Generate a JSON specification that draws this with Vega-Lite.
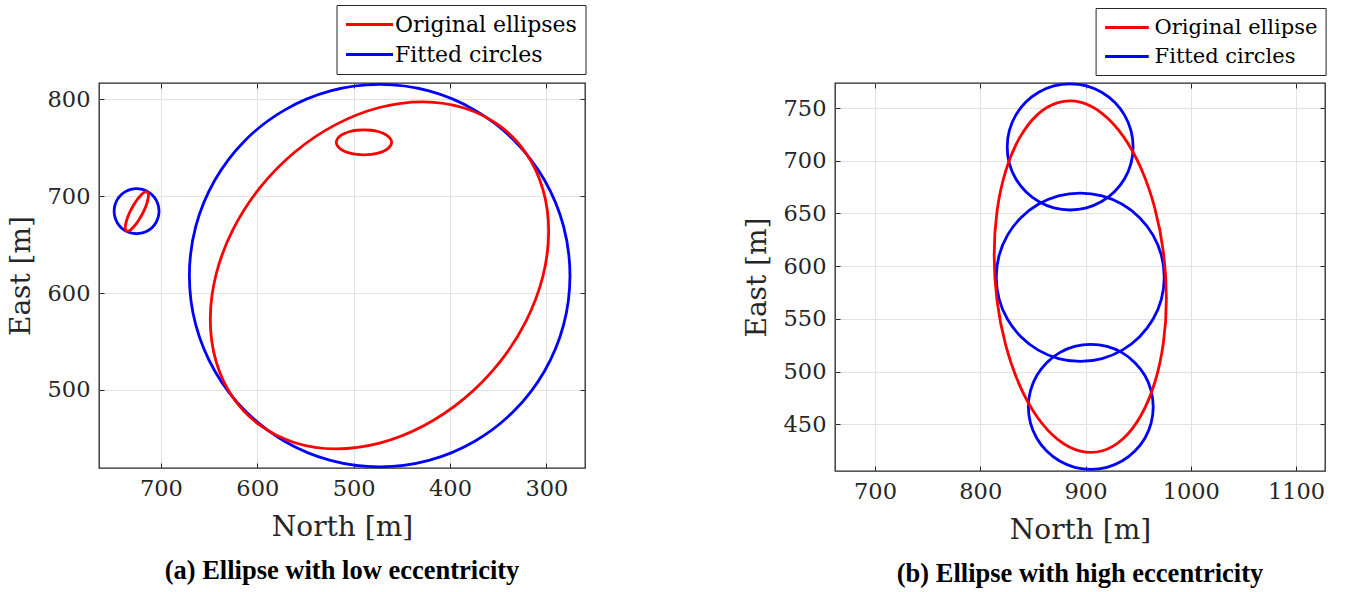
{
  "$schema": "https://vega.github.io/schema/vega-lite/v6.json",
  "background": "white",
  "padding": {"left": 6, "top": 3, "right": 5, "bottom": 5},
  "bounds": "flush",
  "spacing": 250,
  "config": {
    "view": {"stroke": "#262626", "strokeWidth": 1.3},
    "font": "DejaVu Serif",
    "axis": {
      "labelFont": "DejaVu Serif", "labelFontSize": 22.5, "labelColor": "#262626",
      "titleFont": "DejaVu Serif", "titleFontSize": 28, "titleFontWeight": "normal", "titleColor": "#262626",
      "gridColor": "#e2e2e2", "gridWidth": 1, "gridOpacity": 1,
      "tickColor": "#262626", "tickWidth": 1, "domain": false, "format": "d",
      "labelOverlap": false, "labelFlush": false, "labelBound": false
    },
    "legend": {
      "orient": "none", "title": null, "strokeColor": "#262626", "fillColor": "white",
      "padding": 8, "labelFont": "DejaVu Serif", "labelFontSize": 22, "labelColor": "black", "labelLimit": 400,
      "symbolStrokeWidth": 3, "symbolSize": 400, "rowPadding": 7
    },
    "title": {"font": "Liberation Serif", "fontWeight": "bold", "fontSize": 26.5, "color": "black"}
  },
  "resolve": {"scale": {"color": "independent"}, "legend": {"color": "independent"}},
  "hconcat": [
    {
      "width": 486, "height": 385,
      "title": {"text": "(a) Ellipse with low eccentricity", "orient": "bottom", "anchor": "middle", "offset": 16},
      "data": {"values": [
        {"shape":"bigC","series":"Fitted circles","i":0,"north":670.5,"east":618.0},
        {"shape":"bigC","series":"Fitted circles","i":1,"north":663.8,"east":669.1},
        {"shape":"bigC","series":"Fitted circles","i":2,"north":644.0,"east":716.8},
        {"shape":"bigC","series":"Fitted circles","i":3,"north":612.7,"east":757.7},
        {"shape":"bigC","series":"Fitted circles","i":4,"north":571.8,"east":789.0},
        {"shape":"bigC","series":"Fitted circles","i":5,"north":524.1,"east":808.8},
        {"shape":"bigC","series":"Fitted circles","i":6,"north":473.0,"east":815.5},
        {"shape":"bigC","series":"Fitted circles","i":7,"north":421.9,"east":808.8},
        {"shape":"bigC","series":"Fitted circles","i":8,"north":374.3,"east":789.0},
        {"shape":"bigC","series":"Fitted circles","i":9,"north":333.4,"east":757.7},
        {"shape":"bigC","series":"Fitted circles","i":10,"north":302.0,"east":716.8},
        {"shape":"bigC","series":"Fitted circles","i":11,"north":282.2,"east":669.1},
        {"shape":"bigC","series":"Fitted circles","i":12,"north":275.5,"east":618.0},
        {"shape":"bigC","series":"Fitted circles","i":13,"north":282.2,"east":566.9},
        {"shape":"bigC","series":"Fitted circles","i":14,"north":302.0,"east":519.3},
        {"shape":"bigC","series":"Fitted circles","i":15,"north":333.4,"east":478.4},
        {"shape":"bigC","series":"Fitted circles","i":16,"north":374.3,"east":447.0},
        {"shape":"bigC","series":"Fitted circles","i":17,"north":421.9,"east":427.2},
        {"shape":"bigC","series":"Fitted circles","i":18,"north":473.0,"east":420.5},
        {"shape":"bigC","series":"Fitted circles","i":19,"north":524.1,"east":427.2},
        {"shape":"bigC","series":"Fitted circles","i":20,"north":571.8,"east":447.0},
        {"shape":"bigC","series":"Fitted circles","i":21,"north":612.7,"east":478.4},
        {"shape":"bigC","series":"Fitted circles","i":22,"north":644.0,"east":519.3},
        {"shape":"bigC","series":"Fitted circles","i":23,"north":663.8,"east":566.9},
        {"shape":"smallC","series":"Fitted circles","i":0,"north":748.6,"east":684.6},
        {"shape":"smallC","series":"Fitted circles","i":1,"north":747.8,"east":690.6},
        {"shape":"smallC","series":"Fitted circles","i":2,"north":745.5,"east":696.3},
        {"shape":"smallC","series":"Fitted circles","i":3,"north":741.8,"east":701.1},
        {"shape":"smallC","series":"Fitted circles","i":4,"north":736.9,"east":704.8},
        {"shape":"smallC","series":"Fitted circles","i":5,"north":731.3,"east":707.1},
        {"shape":"smallC","series":"Fitted circles","i":6,"north":725.3,"east":707.9},
        {"shape":"smallC","series":"Fitted circles","i":7,"north":719.3,"east":707.1},
        {"shape":"smallC","series":"Fitted circles","i":8,"north":713.7,"east":704.8},
        {"shape":"smallC","series":"Fitted circles","i":9,"north":708.8,"east":701.1},
        {"shape":"smallC","series":"Fitted circles","i":10,"north":705.1,"east":696.3},
        {"shape":"smallC","series":"Fitted circles","i":11,"north":702.8,"east":690.6},
        {"shape":"smallC","series":"Fitted circles","i":12,"north":702.0,"east":684.6},
        {"shape":"smallC","series":"Fitted circles","i":13,"north":702.8,"east":678.6},
        {"shape":"smallC","series":"Fitted circles","i":14,"north":705.1,"east":672.9},
        {"shape":"smallC","series":"Fitted circles","i":15,"north":708.8,"east":668.1},
        {"shape":"smallC","series":"Fitted circles","i":16,"north":713.7,"east":664.4},
        {"shape":"smallC","series":"Fitted circles","i":17,"north":719.3,"east":662.1},
        {"shape":"smallC","series":"Fitted circles","i":18,"north":725.3,"east":661.3},
        {"shape":"smallC","series":"Fitted circles","i":19,"north":731.3,"east":662.1},
        {"shape":"smallC","series":"Fitted circles","i":20,"north":736.9,"east":664.4},
        {"shape":"smallC","series":"Fitted circles","i":21,"north":741.8,"east":668.1},
        {"shape":"smallC","series":"Fitted circles","i":22,"north":745.5,"east":672.9},
        {"shape":"smallC","series":"Fitted circles","i":23,"north":747.8,"east":678.6},
        {"shape":"bigE","series":"Original ellipses","i":0,"north":648.8,"east":572.7},
        {"shape":"bigE","series":"Original ellipses","i":1,"north":642.8,"east":619.2},
        {"shape":"bigE","series":"Original ellipses","i":2,"north":625.3,"east":665.5},
        {"shape":"bigE","series":"Original ellipses","i":3,"north":597.4,"east":708.7},
        {"shape":"bigE","series":"Original ellipses","i":4,"north":561.0,"east":745.7},
        {"shape":"bigE","series":"Original ellipses","i":5,"north":518.7,"east":774.0},
        {"shape":"bigE","series":"Original ellipses","i":6,"north":473.2,"east":791.7},
        {"shape":"bigE","series":"Original ellipses","i":7,"north":427.8,"east":797.6},
        {"shape":"bigE","series":"Original ellipses","i":8,"north":385.4,"east":791.2},
        {"shape":"bigE","series":"Original ellipses","i":9,"north":349.0,"east":773.1},
        {"shape":"bigE","series":"Original ellipses","i":10,"north":321.1,"east":744.5},
        {"shape":"bigE","series":"Original ellipses","i":11,"north":303.6,"east":707.2},
        {"shape":"bigE","series":"Original ellipses","i":12,"north":297.6,"east":663.9},
        {"shape":"bigE","series":"Original ellipses","i":13,"north":303.6,"east":617.4},
        {"shape":"bigE","series":"Original ellipses","i":14,"north":321.1,"east":571.1},
        {"shape":"bigE","series":"Original ellipses","i":15,"north":349.0,"east":527.9},
        {"shape":"bigE","series":"Original ellipses","i":16,"north":385.4,"east":490.9},
        {"shape":"bigE","series":"Original ellipses","i":17,"north":427.8,"east":462.6},
        {"shape":"bigE","series":"Original ellipses","i":18,"north":473.2,"east":444.9},
        {"shape":"bigE","series":"Original ellipses","i":19,"north":518.7,"east":439.0},
        {"shape":"bigE","series":"Original ellipses","i":20,"north":561.0,"east":445.4},
        {"shape":"bigE","series":"Original ellipses","i":21,"north":597.4,"east":463.5},
        {"shape":"bigE","series":"Original ellipses","i":22,"north":625.3,"east":492.1},
        {"shape":"bigE","series":"Original ellipses","i":23,"north":642.8,"east":529.4},
        {"shape":"topE","series":"Original ellipses","i":0,"north":518.0,"east":755.7},
        {"shape":"topE","series":"Original ellipses","i":1,"north":517.0,"east":759.0},
        {"shape":"topE","series":"Original ellipses","i":2,"north":514.2,"east":762.2},
        {"shape":"topE","series":"Original ellipses","i":3,"north":509.6,"east":764.8},
        {"shape":"topE","series":"Original ellipses","i":4,"north":503.7,"east":766.9},
        {"shape":"topE","series":"Original ellipses","i":5,"north":496.7,"east":768.2},
        {"shape":"topE","series":"Original ellipses","i":6,"north":489.3,"east":768.6},
        {"shape":"topE","series":"Original ellipses","i":7,"north":481.9,"east":768.2},
        {"shape":"topE","series":"Original ellipses","i":8,"north":474.9,"east":766.9},
        {"shape":"topE","series":"Original ellipses","i":9,"north":469.0,"east":764.8},
        {"shape":"topE","series":"Original ellipses","i":10,"north":464.5,"east":762.2},
        {"shape":"topE","series":"Original ellipses","i":11,"north":461.6,"east":759.0},
        {"shape":"topE","series":"Original ellipses","i":12,"north":460.6,"east":755.7},
        {"shape":"topE","series":"Original ellipses","i":13,"north":461.6,"east":752.4},
        {"shape":"topE","series":"Original ellipses","i":14,"north":464.5,"east":749.3},
        {"shape":"topE","series":"Original ellipses","i":15,"north":469.0,"east":746.6},
        {"shape":"topE","series":"Original ellipses","i":16,"north":474.9,"east":744.5},
        {"shape":"topE","series":"Original ellipses","i":17,"north":481.9,"east":743.2},
        {"shape":"topE","series":"Original ellipses","i":18,"north":489.3,"east":742.8},
        {"shape":"topE","series":"Original ellipses","i":19,"north":496.7,"east":743.2},
        {"shape":"topE","series":"Original ellipses","i":20,"north":503.7,"east":744.5},
        {"shape":"topE","series":"Original ellipses","i":21,"north":509.6,"east":746.6},
        {"shape":"topE","series":"Original ellipses","i":22,"north":514.2,"east":749.3},
        {"shape":"topE","series":"Original ellipses","i":23,"north":517.0,"east":752.4},
        {"shape":"smallE","series":"Original ellipses","i":0,"north":714.3,"east":704.4},
        {"shape":"smallE","series":"Original ellipses","i":1,"north":716.1,"east":704.5},
        {"shape":"smallE","series":"Original ellipses","i":2,"north":718.5,"east":703.2},
        {"shape":"smallE","series":"Original ellipses","i":3,"north":721.3,"east":700.6},
        {"shape":"smallE","series":"Original ellipses","i":4,"north":724.4,"east":696.9},
        {"shape":"smallE","series":"Original ellipses","i":5,"north":727.5,"east":692.3},
        {"shape":"smallE","series":"Original ellipses","i":6,"north":730.5,"east":687.2},
        {"shape":"smallE","series":"Original ellipses","i":7,"north":733.1,"east":681.9},
        {"shape":"smallE","series":"Original ellipses","i":8,"north":735.1,"east":676.8},
        {"shape":"smallE","series":"Original ellipses","i":9,"north":736.4,"east":672.2},
        {"shape":"smallE","series":"Original ellipses","i":10,"north":737.0,"east":668.4},
        {"shape":"smallE","series":"Original ellipses","i":11,"north":736.8,"east":665.6},
        {"shape":"smallE","series":"Original ellipses","i":12,"north":735.7,"east":664.2},
        {"shape":"smallE","series":"Original ellipses","i":13,"north":733.9,"east":664.1},
        {"shape":"smallE","series":"Original ellipses","i":14,"north":731.5,"east":665.4},
        {"shape":"smallE","series":"Original ellipses","i":15,"north":728.7,"east":668.0},
        {"shape":"smallE","series":"Original ellipses","i":16,"north":725.6,"east":671.7},
        {"shape":"smallE","series":"Original ellipses","i":17,"north":722.5,"east":676.3},
        {"shape":"smallE","series":"Original ellipses","i":18,"north":719.5,"east":681.4},
        {"shape":"smallE","series":"Original ellipses","i":19,"north":716.9,"east":686.7},
        {"shape":"smallE","series":"Original ellipses","i":20,"north":714.9,"east":691.8},
        {"shape":"smallE","series":"Original ellipses","i":21,"north":713.6,"east":696.5},
        {"shape":"smallE","series":"Original ellipses","i":22,"north":713.0,"east":700.3},
        {"shape":"smallE","series":"Original ellipses","i":23,"north":713.2,"east":703.0}
      ]},
      "layer": [
        {
          "mark": {"type": "line", "interpolate": "cardinal-closed", "strokeWidth": 2.8},
          "encoding": {
            "x": {"field": "north", "type": "quantitative", "scale": {"domain": [259.9, 764.3], "reverse": true, "nice": false, "zero": false},
                  "axis": {"orient": "bottom", "values": [700, 600, 500, 400, 300], "title": "North [m]", "grid": true, "tickSize": -5, "labelPadding": 14, "titlePadding": 14}},
            "y": {"field": "east", "type": "quantitative", "scale": {"domain": [419.3, 817.0], "nice": false, "zero": false},
                  "axis": {"orient": "left", "values": [500, 600, 700, 800], "title": "East [m]", "grid": true, "tickSize": -5, "labelPadding": 14, "titlePadding": 12}},
            "color": {"field": "series", "type": "nominal",
                      "scale": {"domain": ["Original ellipses", "Fitted circles"], "range": ["#ff0000", "#0000ff"]},
                      "legend": {"legendX": 237.5, "legendY": -78, "symbolType": "M-1,0H3.7", "labelOffset": 27.5}},
            "detail": {"field": "shape"},
            "order": {"field": "i", "type": "quantitative"}
          }
        },
        {
          "mark": {"type": "point", "opacity": 0},
          "encoding": {
            "x": {"field": "north", "type": "quantitative",
                  "axis": {"orient": "top", "values": [700, 600, 500, 400, 300], "title": null, "labels": false, "grid": false, "tickSize": -5}},
            "y": {"field": "east", "type": "quantitative",
                  "axis": {"orient": "right", "values": [500, 600, 700, 800], "title": null, "labels": false, "grid": false, "tickSize": -5}}
          }
        }
      ],
      "resolve": {"axis": {"x": "independent", "y": "independent"}}
    },
    {
      "width": 490, "height": 388,
      "title": {"text": "(b) Ellipse with high eccentricity", "orient": "bottom", "anchor": "middle", "offset": 16},
      "data": {"values": [
        {"shape":"topC","series":"Fitted circles","i":0,"north":945.2,"east":713.1},
        {"shape":"topC","series":"Fitted circles","i":1,"north":943.2,"east":728.6},
        {"shape":"topC","series":"Fitted circles","i":2,"north":937.2,"east":743.0},
        {"shape":"topC","series":"Fitted circles","i":3,"north":927.7,"east":755.4},
        {"shape":"topC","series":"Fitted circles","i":4,"north":915.3,"east":764.9},
        {"shape":"topC","series":"Fitted circles","i":5,"north":900.9,"east":770.9},
        {"shape":"topC","series":"Fitted circles","i":6,"north":885.4,"east":772.9},
        {"shape":"topC","series":"Fitted circles","i":7,"north":869.9,"east":770.9},
        {"shape":"topC","series":"Fitted circles","i":8,"north":855.5,"east":764.9},
        {"shape":"topC","series":"Fitted circles","i":9,"north":843.1,"east":755.4},
        {"shape":"topC","series":"Fitted circles","i":10,"north":833.6,"east":743.0},
        {"shape":"topC","series":"Fitted circles","i":11,"north":827.6,"east":728.6},
        {"shape":"topC","series":"Fitted circles","i":12,"north":825.6,"east":713.1},
        {"shape":"topC","series":"Fitted circles","i":13,"north":827.6,"east":697.6},
        {"shape":"topC","series":"Fitted circles","i":14,"north":833.6,"east":683.2},
        {"shape":"topC","series":"Fitted circles","i":15,"north":843.1,"east":670.8},
        {"shape":"topC","series":"Fitted circles","i":16,"north":855.5,"east":661.3},
        {"shape":"topC","series":"Fitted circles","i":17,"north":869.9,"east":655.3},
        {"shape":"topC","series":"Fitted circles","i":18,"north":885.4,"east":653.3},
        {"shape":"topC","series":"Fitted circles","i":19,"north":900.9,"east":655.3},
        {"shape":"topC","series":"Fitted circles","i":20,"north":915.3,"east":661.3},
        {"shape":"topC","series":"Fitted circles","i":21,"north":927.7,"east":670.8},
        {"shape":"topC","series":"Fitted circles","i":22,"north":937.2,"east":683.2},
        {"shape":"topC","series":"Fitted circles","i":23,"north":943.2,"east":697.6},
        {"shape":"midC","series":"Fitted circles","i":0,"north":974.8,"east":589.6},
        {"shape":"midC","series":"Fitted circles","i":1,"north":972.1,"east":610.3},
        {"shape":"midC","series":"Fitted circles","i":2,"north":964.1,"east":629.5},
        {"shape":"midC","series":"Fitted circles","i":3,"north":951.4,"east":646.0},
        {"shape":"midC","series":"Fitted circles","i":4,"north":934.9,"east":658.7},
        {"shape":"midC","series":"Fitted circles","i":5,"north":915.7,"east":666.7},
        {"shape":"midC","series":"Fitted circles","i":6,"north":895.0,"east":669.4},
        {"shape":"midC","series":"Fitted circles","i":7,"north":874.3,"east":666.7},
        {"shape":"midC","series":"Fitted circles","i":8,"north":855.1,"east":658.7},
        {"shape":"midC","series":"Fitted circles","i":9,"north":838.6,"east":646.0},
        {"shape":"midC","series":"Fitted circles","i":10,"north":825.9,"east":629.5},
        {"shape":"midC","series":"Fitted circles","i":11,"north":817.9,"east":610.3},
        {"shape":"midC","series":"Fitted circles","i":12,"north":815.2,"east":589.6},
        {"shape":"midC","series":"Fitted circles","i":13,"north":817.9,"east":568.9},
        {"shape":"midC","series":"Fitted circles","i":14,"north":825.9,"east":549.7},
        {"shape":"midC","series":"Fitted circles","i":15,"north":838.6,"east":533.2},
        {"shape":"midC","series":"Fitted circles","i":16,"north":855.1,"east":520.5},
        {"shape":"midC","series":"Fitted circles","i":17,"north":874.3,"east":512.5},
        {"shape":"midC","series":"Fitted circles","i":18,"north":895.0,"east":509.8},
        {"shape":"midC","series":"Fitted circles","i":19,"north":915.7,"east":512.5},
        {"shape":"midC","series":"Fitted circles","i":20,"north":934.9,"east":520.5},
        {"shape":"midC","series":"Fitted circles","i":21,"north":951.4,"east":533.2},
        {"shape":"midC","series":"Fitted circles","i":22,"north":964.1,"east":549.7},
        {"shape":"midC","series":"Fitted circles","i":23,"north":972.1,"east":568.9},
        {"shape":"botC","series":"Fitted circles","i":0,"north":964.3,"east":466.7},
        {"shape":"botC","series":"Fitted circles","i":1,"north":962.3,"east":482.1},
        {"shape":"botC","series":"Fitted circles","i":2,"north":956.4,"east":496.4},
        {"shape":"botC","series":"Fitted circles","i":3,"north":946.9,"east":508.6},
        {"shape":"botC","series":"Fitted circles","i":4,"north":934.7,"east":518.1},
        {"shape":"botC","series":"Fitted circles","i":5,"north":920.4,"east":524.0},
        {"shape":"botC","series":"Fitted circles","i":6,"north":905.0,"east":526.0},
        {"shape":"botC","series":"Fitted circles","i":7,"north":889.7,"east":524.0},
        {"shape":"botC","series":"Fitted circles","i":8,"north":875.4,"east":518.1},
        {"shape":"botC","series":"Fitted circles","i":9,"north":863.1,"east":508.6},
        {"shape":"botC","series":"Fitted circles","i":10,"north":853.7,"east":496.4},
        {"shape":"botC","series":"Fitted circles","i":11,"north":847.7,"east":482.1},
        {"shape":"botC","series":"Fitted circles","i":12,"north":845.7,"east":466.7},
        {"shape":"botC","series":"Fitted circles","i":13,"north":847.7,"east":451.3},
        {"shape":"botC","series":"Fitted circles","i":14,"north":853.7,"east":437.0},
        {"shape":"botC","series":"Fitted circles","i":15,"north":863.1,"east":424.8},
        {"shape":"botC","series":"Fitted circles","i":16,"north":875.4,"east":415.3},
        {"shape":"botC","series":"Fitted circles","i":17,"north":889.7,"east":409.4},
        {"shape":"botC","series":"Fitted circles","i":18,"north":905.0,"east":407.4},
        {"shape":"botC","series":"Fitted circles","i":19,"north":920.4,"east":409.4},
        {"shape":"botC","series":"Fitted circles","i":20,"north":934.7,"east":415.3},
        {"shape":"botC","series":"Fitted circles","i":21,"north":946.9,"east":424.8},
        {"shape":"botC","series":"Fitted circles","i":22,"north":956.4,"east":437.0},
        {"shape":"botC","series":"Fitted circles","i":23,"north":962.3,"east":451.3},
        {"shape":"ell","series":"Original ellipse","i":0,"north":976.8,"east":569.7},
        {"shape":"ell","series":"Original ellipse","i":1,"north":974.0,"east":613.2},
        {"shape":"ell","series":"Original ellipse","i":2,"north":965.8,"east":655.1},
        {"shape":"ell","series":"Original ellipse","i":3,"north":952.8,"east":692.6},
        {"shape":"ell","series":"Original ellipse","i":4,"north":935.9,"east":723.1},
        {"shape":"ell","series":"Original ellipse","i":5,"north":916.2,"east":744.5},
        {"shape":"ell","series":"Original ellipse","i":6,"north":895.0,"east":755.5},
        {"shape":"ell","series":"Original ellipse","i":7,"north":873.8,"east":755.1},
        {"shape":"ell","series":"Original ellipse","i":8,"north":854.1,"east":743.5},
        {"shape":"ell","series":"Original ellipse","i":9,"north":837.2,"east":721.4},
        {"shape":"ell","series":"Original ellipse","i":10,"north":824.2,"east":690.4},
        {"shape":"ell","series":"Original ellipse","i":11,"north":816.0,"east":652.6},
        {"shape":"ell","series":"Original ellipse","i":12,"north":813.2,"east":610.5},
        {"shape":"ell","series":"Original ellipse","i":13,"north":816.0,"east":567.0},
        {"shape":"ell","series":"Original ellipse","i":14,"north":824.2,"east":525.1},
        {"shape":"ell","series":"Original ellipse","i":15,"north":837.2,"east":487.6},
        {"shape":"ell","series":"Original ellipse","i":16,"north":854.1,"east":457.1},
        {"shape":"ell","series":"Original ellipse","i":17,"north":873.8,"east":435.7},
        {"shape":"ell","series":"Original ellipse","i":18,"north":895.0,"east":424.8},
        {"shape":"ell","series":"Original ellipse","i":19,"north":916.2,"east":425.1},
        {"shape":"ell","series":"Original ellipse","i":20,"north":935.9,"east":436.7},
        {"shape":"ell","series":"Original ellipse","i":21,"north":952.8,"east":458.8},
        {"shape":"ell","series":"Original ellipse","i":22,"north":965.8,"east":489.8},
        {"shape":"ell","series":"Original ellipse","i":23,"north":974.0,"east":527.6}
      ]},
      "layer": [
        {
          "mark": {"type": "line", "interpolate": "cardinal-closed", "strokeWidth": 2.8},
          "encoding": {
            "x": {"field": "north", "type": "quantitative", "scale": {"domain": [662.0, 1127.5], "nice": false, "zero": false},
                  "axis": {"orient": "bottom", "values": [700, 800, 900, 1000, 1100], "title": "North [m]", "grid": true, "tickSize": -5, "labelPadding": 14, "titlePadding": 14}},
            "y": {"field": "east", "type": "quantitative", "scale": {"domain": [405.9, 773.7], "nice": false, "zero": false},
                  "axis": {"orient": "left", "values": [450, 500, 550, 600, 650, 700, 750], "title": "East [m]", "grid": true, "tickSize": -5, "labelPadding": 14, "titlePadding": 12}},
            "color": {"field": "series", "type": "nominal",
                      "scale": {"domain": ["Original ellipse", "Fitted circles"], "range": ["#ff0000", "#0000ff"]},
                      "legend": {"legendX": 260.6, "legendY": -75, "symbolType": "M-1,0H3.37", "labelOffset": 28, "labelFontSize": 21}},
            "detail": {"field": "shape"},
            "order": {"field": "i", "type": "quantitative"}
          }
        },
        {
          "mark": {"type": "point", "opacity": 0},
          "encoding": {
            "x": {"field": "north", "type": "quantitative",
                  "axis": {"orient": "top", "values": [700, 800, 900, 1000, 1100], "title": null, "labels": false, "grid": false, "tickSize": -5}},
            "y": {"field": "east", "type": "quantitative",
                  "axis": {"orient": "right", "values": [450, 500, 550, 600, 650, 700, 750], "title": null, "labels": false, "grid": false, "tickSize": -5}}
          }
        }
      ],
      "resolve": {"axis": {"x": "independent", "y": "independent"}}
    }
  ]
}
